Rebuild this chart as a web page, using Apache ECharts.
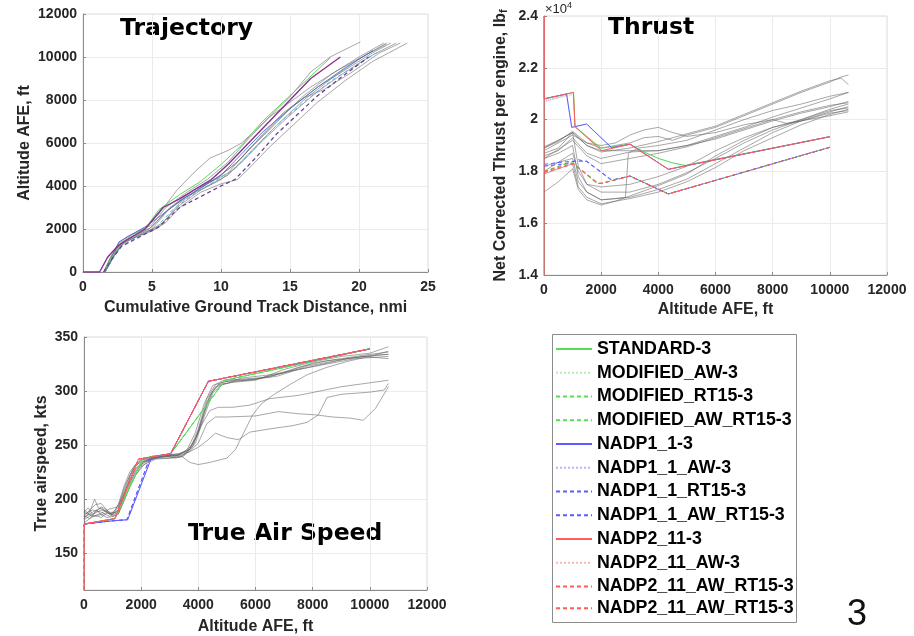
<!DOCTYPE html>
<html><head><meta charset="utf-8">
<script src="https://cdn.jsdelivr.net/npm/echarts@6/dist/echarts.min.js"></script>
<style>html,body{margin:0;padding:0;background:#fff}#c{width:914px;height:636px}</style>
</head><body><div id="c"></div><script>
// ---------- legend / procedure names ----------
const legendNames = ['STANDARD-3','MODIFIED_AW-3','MODIFIED_RT15-3','MODIFIED_AW_RT15-3','NADP1_1-3','NADP1_1_AW-3','NADP1_1_RT15-3','NADP1_1_AW_RT15-3','NADP2_11-3','NADP2_11_AW-3','NADP2_11_AW_RT15-3','NADP2_11_AW_RT15-3'];

// ---------- Trajectory: [distance nmi, altitude ft] ----------
const trajFlights = [
 [[1.5,0],[2.0,700],[2.6,1350],[3.2,1650],[4.5,2050],[5.5,2700],[6.8,3800],[8,4600],[9.2,5300],[10.5,5650],[11.5,6000],[13,6900],[15,8150],[16.5,9300],[17.9,10000],[20.1,10700]],
 [[1.6,0],[2.2,700],[2.8,1300],[3.5,1550],[5,1900],[6,2300],[7,3000],[8.5,3700],[10,4100],[11.2,4300],[12,4800],[13.5,5800],[15,6700],[17,7900],[19,8900],[21,9800],[23.5,10650]],
 [[1.5,0],[2.1,700],[2.7,1300],[3.5,1600],[5,2000],[6.2,2900],[7.5,3500],[9,4000],[10.5,4500],[12,5500],[14,6800],[16,8000],[18,9000],[20,9900],[22,10650]],
 [[1.6,0],[2.2,750],[2.8,1350],[3.6,1650],[5,2100],[6,2800],[7.5,3500],[9,4100],[10.5,4600],[12,5700],[13.5,6600],[15,7600],[17,8600],[19,9400],[21,10200],[22.3,10650]],
 [[1.5,0],[2,650],[2.6,1250],[3.4,1600],[4.8,2000],[6.3,3000],[8,3800],[9.5,4300],[11,5000],[12.5,6000],[14,7000],[16,8200],[18,9200],[20,10000],[21.8,10650]],
 [[1.6,0],[2.2,700],[2.9,1300],[4,1700],[5.5,2100],[7,3100],[8.5,3800],[10,4300],[11.5,5100],[13,6100],[15,7300],[17,8400],[19,9300],[21,10100],[22.7,10650]],
 [[1.5,0],[2.1,750],[2.7,1350],[3.5,1700],[5,2200],[6,3000],[7.5,3700],[9,4300],[10.5,5100],[12,6200],[13.5,7200],[15,7900],[16.5,8600],[18.5,9400],[20.5,10100],[22,10600]],
 [[1.6,0],[2.3,800],[3,1400],[4.5,1800],[5.8,2300],[7,3200],[8.5,3900],[10,4500],[11.5,5300],[13,6400],[14.5,7400],[16,8100],[17.5,8500],[19.5,9300],[21.5,10200],[23,10650]]
];
const trajModelPurple = [[0,0],[1.2,0],[1.8,700],[2.5,1200],[3.2,1500],[4.5,2000],[5.8,3000],[7,3400],[8,3800],[9.3,4300],[10.5,5000],[12,6000],[13.5,7000],[15,8000],[16.5,9000],[18.65,10000]];
const trajModelGreen = [[1.5,0],[2.1,700],[2.7,1250],[3.5,1600],[4.5,2000],[5.5,2900],[7,3600],[8.5,4200],[10,5000],[11.5,5900],[13,7000],[15,8200],[17.9,9950]];
const trajModelDashed = [[1.5,0],[2.2,700],[2.8,1200],[4,1600],[5.5,2100],[7,3000],[8.5,3500],[10,4000],[11,4300],[12.5,5300],[14,6400],[15.5,7300],[17,8200],[19,9200],[20.7,10000]];
const trajModelBlue = [[1.5,0],[2.1,700],[2.6,1400],[3.4,1700],[4.5,2100],[5.6,2600],[7,3300],[8.5,3900],[10,4500],[11.5,5500],[13,6500],[15,7600],[17,8600],[19,9500],[21,10300]];
const trajModelCyan = [[1.6,0],[2.2,650],[2.8,1200],[4,1650],[5.2,2000],[6.5,2900],[8,3600],[9.5,4200],[11,4800],[12.5,5800],[14,6800],[16,7900],[18,8900],[20,9700],[21.3,10200]];

// ---------- Thrust: [altitude ft, thrust lbf] ----------
const thrustFlights = [
 [[0,18900],[500,19150],[1000,19550],[1500,19100],[2000,18900],[3000,19100],[3500,19300],[4000,19350],[4500,19200],[5000,19400],[6000,19700],[7000,20150],[8000,20600],[9000,21050],[10000,21450],[10400,21650],[10650,21720]],
 [[0,18950],[500,19200],[1000,19500],[1500,19000],[2000,18750],[3000,18900],[4000,19150],[5000,19450],[6000,19750],[7000,20200],[8000,20650],[9000,21100],[10000,21500],[10400,21600],[10650,21350]],
 [[0,18600],[500,18800],[1000,19300],[1500,18700],[2000,18500],[3000,18750],[4000,18800],[5000,19000],[6000,19350],[7000,19700],[8000,20100],[9000,20450],[10000,20800],[10650,21050]],
 [[0,18900],[1000,19500],[1500,19000],[2000,18800],[3000,18800],[4000,18800],[5000,19000],[6000,19250],[7000,19600],[8000,19950],[9000,20250],[10000,20500],[10650,20700]],
 [[0,18800],[1000,19400],[1500,19100],[2000,19000],[2500,19100],[3000,19400],[3500,19600],[4000,19700],[4500,19500],[5000,19350],[6000,19500],[7000,19800],[8000,20000],[8500,19850],[9000,19950],[10000,20150],[10650,20300]],
 [[0,18500],[1000,19200],[1500,18600],[2000,18300],[3000,18500],[4000,18700],[5000,18950],[6000,19300],[7000,19650],[8000,20000],[9000,20300],[10000,20550],[10650,20650]],
 [[0,18200],[500,18350],[1000,18500],[1200,17600],[1500,17200],[2000,16900],[2500,16950],[3000,17000],[4000,17300],[5000,17700],[6000,18300],[7000,18900],[8000,19500],[9000,19950],[10000,20300],[10650,20500]],
 [[0,17900],[500,18100],[1000,18300],[1200,17400],[1500,17000],[2000,16750],[2500,16850],[3000,16950],[4000,17200],[5000,17600],[6000,18150],[7000,18800],[8000,19300],[9000,19800],[10000,20200],[10650,20400]],
 [[0,17200],[500,17600],[1000,18100],[1200,17300],[1500,16900],[2000,16700],[2500,16850],[3000,17050],[4000,17450],[5000,17900],[6000,18600],[7000,19200],[8000,19700],[9000,20000],[10000,20400],[10650,20600]],
 [[0,18500],[500,18700],[1000,19000],[1200,17800],[1500,17200],[2000,16900],[2500,16950],[2850,17000],[2950,18700],[3300,18900],[4000,19000],[5000,19200],[6000,19600],[7000,20000],[8000,20350],[9000,20600],[10000,20900],[10650,21050]],
 [[0,18700],[500,18900],[1000,19500],[1200,18200],[1500,17500],[2000,17200],[3000,17200],[4000,17500],[5000,17950],[6000,18500],[7000,19100],[8000,19600],[9000,20000],[10000,20350],[10650,20450]],
 [[0,18000],[1000,18700],[1200,18000],[1500,17500],[2000,17400],[3000,17500],[4000,17800],[5000,18200],[6000,18800],[7000,19300],[8000,19700],[9000,19950],[10000,20250],[10650,20350]]
];
const thrStandard = [[0,20800],[1030,21050],[1085,19730],[1500,19350],[2000,18900],[3010,19050],[3500,18750],[4000,18500],[4500,18330],[4930,18230],[10000,19340]];
const thrModAW = [[0,20750],[1030,21000],[1085,19720],[1500,19340],[2000,18890],[3010,19050],[3500,18750],[4000,18500],[4500,18330],[4930,18230],[10000,19340]];
const thrModRT15 = [[0,18000],[850,18340],[1030,18310],[1850,17540],[2020,17540],[3010,17820],[4350,17130],[10000,18930]];
const thrModAWRT15 = [[0,17980],[850,18320],[1030,18290],[1850,17530],[2020,17540],[3010,17820],[4350,17130],[10000,18930]];
const thrNadp1 = [[0,20800],[790,20990],[970,19700],[1490,19830],[2370,18910],[3010,19050],[4350,18080],[10000,19340]];
const thrNadp1AW = [[0,20700],[790,20950],[970,19700],[1490,19830],[2370,18910],[3010,19050],[4350,18080],[10000,19340]];
const thrNadp1RT15 = [[0,18275],[790,18375],[1490,18400],[2370,17670],[3010,17820],[4350,17130],[10000,18930]];
const thrNadp1AWRT15 = [[0,18200],[790,18300],[1200,18450],[1490,18380],[2370,17650],[3010,17820],[4350,17130],[10000,18930]];
const thrNadp2 = [[0,14000],[0,24000],[0,20800],[1030,21050],[1085,19730],[2020,18800],[3010,19050],[4350,18080],[10000,19340]];
const thrNadp2AW = [[0,20700],[1030,20960],[1085,19700],[2020,18800],[3010,19050],[4350,18080],[10000,19340]];
const thrNadp2AWRT15 = [[0,18000],[1030,18310],[1900,17540],[2020,17540],[3010,17820],[4350,17130],[10000,18930]];
const thrNadp2AWRT15b = [[0,17950],[1030,18280],[1900,17540],[2020,17540],[3010,17820],[4350,17130],[10000,18930]];

// ---------- True air speed: [altitude ft, kts] ----------
const tasFlights = [
 [[0,188],[150,192],[300,186],[450,190],[600,185],[800,188],[1000,186],[1200,195],[1400,212],[1600,225],[1800,232],[2000,234],[2400,238],[2800,239],[3200,240],[3600,244],[3900,256],[4200,280],[4500,300],[4800,308],[5200,310],[6000,311],[7000,317],[8000,326],[9000,330],[10000,334],[10650,336]],
 [[0,182],[200,188],[370,200],[500,192],[700,190],[900,186],[1100,190],[1300,200],[1500,215],[1700,228],[2000,236],[2400,240],[2800,241],[3200,240],[3600,245],[3900,262],[4200,288],[4500,305],[4900,310],[5500,311],[6500,313],[7500,322],[8500,328],[9500,331],[10650,334]],
 [[0,185],[200,182],[400,188],[600,193],[800,190],[1000,185],[1200,188],[1400,205],[1600,218],[1800,228],[2100,236],[2500,238],[3000,238],[3400,239],[3800,248],[4100,270],[4400,296],[4700,306],[5200,308],[6000,310],[7000,320],[8000,327],[9000,332],[10000,335],[10650,341]],
 [[0,190],[200,186],[400,184],[600,186],[800,183],[1000,184],[1200,186],[1400,198],[1600,212],[1800,222],[2000,230],[2300,236],[2800,240],[3300,241],[3700,246],[4000,262],[4300,290],[4600,304],[5000,307],[5500,312],[6500,315],[7500,320],[8500,325],[9500,330],[10650,332]],
 [[0,178],[200,182],[400,185],[600,183],[800,187],[1000,186],[1200,192],[1400,210],[1600,222],[1800,230],[2000,236],[2400,239],[2800,240],[3200,238],[3500,240],[3900,252],[4200,276],[4500,298],[4800,306],[5300,309],[6200,312],[7200,318],[8200,324],[9200,330],[10000,333],[10650,334]],
 [[0,184],[200,190],[400,195],[600,196],[800,190],[1000,184],[1200,187],[1400,202],[1600,220],[1800,232],[2000,237],[2400,239],[2900,241],[3300,242],[3700,246],[4000,265],[4300,293],[4600,306],[5000,309],[5800,310],[6800,314],[7800,323],[8800,328],[9800,332],[10650,330]],
 [[0,186],[300,190],[600,188],[900,184],[1200,190],[1500,212],[1800,228],[2100,234],[2500,238],[3000,240],[3400,240],[3700,234],[4000,232],[4400,234],[4700,236],[5000,238],[5300,246],[5600,262],[5900,278],[6200,288],[6600,296],[7200,306],[7800,315],[8500,322],[9300,328],[10000,332],[10650,337]],
 [[0,181],[300,186],[600,190],[900,188],[1200,187],[1500,205],[1800,222],[2100,232],[2500,237],[3000,238],[3400,240],[3700,244],[4000,248],[4300,254],[4600,261],[5000,257],[5400,255],[5800,262],[6500,265],[7300,268],[7800,271],[8200,278],[8500,294],[9000,297],[10000,299],[10500,301],[10650,307]],
 [[0,188],[300,184],[600,187],[900,191],[1200,193],[1500,210],[1800,225],[2100,234],[2500,239],[3000,240],[3400,241],[3700,244],[4000,252],[4300,270],[4600,276],[5000,276],[6000,277],[6800,281],[7500,279],[8100,278],[8700,276],[9300,275],[9770,273],[10200,284],[10650,304]],
 [[0,183],[300,188],[600,192],[900,186],[1200,189],[1500,208],[1800,226],[2100,235],[2500,239],[3000,241],[3400,242],[3800,250],[4100,268],[4400,282],[4700,285],[5200,285],[5800,287],[6500,293],[7500,296],[9000,304],[10650,310]]
];
const tasStandard = [[0,177],[1080,182],[2070,238],[3030,242],[4930,310],[10000,339]];
const tasNadp1 = [[0,177],[1000,180],[1530,181],[2370,239],[3030,242],[4350,309],[10000,339]];
const tasNadp1RT15 = [[0,177],[1000,180],[1500,181],[2300,238],[3030,242],[4350,309],[10000,339]];
const tasNadp2 = [[0,116],[0,177],[1080,182],[1900,237],[3030,242],[4350,309],[10000,339]];

// ---------- axis ticks ----------
const trajXTicks = [0, 25, 5];
const trajYTicks = [0, 12000, 2000];
const altTicks = [0, 12000, 2000];
const thrustYTicks = [14000, 24000, 2000];
const tasYMin = 116, tasYMax = 350;
const tasYLabels = [150, 200, 250, 300, 350];

// ---------- styling ----------
const GREEN = '#55dd55', BLUE = '#5c5cff', RED = '#ff5c5c';
const GRAY = 'rgba(95,95,95,0.55)';
const FONT = 'Liberation Sans';

function line(name, data, idx, color, type, opacity, z, width) {
  return {
    type: 'line', name: name, data: data, xAxisIndex: idx, yAxisIndex: idx,
    symbol: 'none', showSymbol: false, animation: false, silent: true, z: z || 2,
    lineStyle: { color: color, width: width || 1, type: type || 'solid', opacity: opacity == null ? 1 : opacity },
    itemStyle: { color: color }
  };
}
const DASH = [4, 3];

const series = [];
trajFlights.forEach((d, i) => series.push(line('traj-flight-' + i, d, 0, GRAY, 'solid', 1, 1)));
series.push(line('traj-cyan', trajModelCyan, 0, '#4fb3d9', DASH, 0.9, 2));
series.push(line('traj-blue', trajModelBlue, 0, '#4a6fd0', 'solid', 0.9, 2));
series.push(line('traj-green', trajModelGreen, 0, '#5fd35f', 'solid', 1, 2));
series.push(line('traj-dashed', trajModelDashed, 0, '#6b3f8f', DASH, 1, 2, 1.3));
series.push(line('traj-purple', trajModelPurple, 0, '#8a3090', 'solid', 1, 2, 1.4));

thrustFlights.forEach((d, i) => series.push(line('thrust-flight-' + i, d, 1, GRAY, 'solid', 1, 1)));
tasFlights.forEach((d, i) => series.push(line('tas-flight-' + i, d, 2, GRAY, 'solid', 1, 1)));

// procedure lines (thrust grid first so legend picks its style)
const thrData = [thrStandard, thrModAW, thrModRT15, thrModAWRT15, thrNadp1, thrNadp1AW, thrNadp1RT15, thrNadp1AWRT15, thrNadp2, thrNadp2AW, thrNadp2AWRT15, thrNadp2AWRT15b];
const tasData = [tasStandard, tasStandard, tasStandard, tasStandard, tasNadp1, tasNadp1, tasNadp1RT15, tasNadp1RT15, tasNadp2, tasNadp2, tasNadp2, tasNadp2];
const procColor = [GREEN, GREEN, GREEN, GREEN, BLUE, BLUE, BLUE, BLUE, RED, RED, RED, RED];
const procType = ['solid', 'dotted', DASH, DASH, 'solid', 'dotted', DASH, DASH, 'solid', 'dotted', DASH, DASH];
const procOpacity = [1, 0.45, 1, 1, 1, 0.45, 1, 1, 1, 0.45, 1, 1];
const procZ = [3, 3, 3, 3, 4, 4, 4, 4, 5, 5, 5, 5];
legendNames.forEach((n, i) => series.push(line(n, thrData[i], 1, procColor[i], procType[i], procOpacity[i], procZ[i])));
legendNames.forEach((n, i) => series.push(line(n, tasData[i], 2, procColor[i], procType[i], procOpacity[i], procZ[i])));

const plain = v => String(v);
const axisCommon = {
  type: 'value',
  axisLine: { show: true, onZero: false, lineStyle: { color: '#8c8c8c', width: 1 } },
  axisTick: { show: true, inside: true, length: 3, lineStyle: { color: '#8c8c8c' } },
  splitLine: { show: true, lineStyle: { color: '#ebebeb', width: 1 } },
  nameLocation: 'middle',
  nameTextStyle: { color: '#262626', fontWeight: 'bold', fontSize: 16, fontFamily: FONT }
};
function lbl(extra) { return Object.assign({ color: '#262626', fontWeight: 'bold', fontSize: 14, fontFamily: FONT, formatter: plain }, extra); }
function ax(extra) { return Object.assign({}, JSON.parse(JSON.stringify(axisCommon)), extra); }

const legendText = { fontFamily: FONT, fontWeight: 'bold', fontSize: 17.8, color: '#000', lineHeight: 17.8 };
const LEG_TOP = 340.1, LEG_PITCH = 23.55, LEG_GAP = 5.75;
const option = {
  backgroundColor: '#ffffff',
  animation: false,
  grid: [
    { left: 83, top: 14, width: 345, height: 258, show: true, borderColor: '#dcdcdc', borderWidth: 1, backgroundColor: 'transparent' },
    { left: 544, top: 16, width: 343, height: 259, show: true, borderColor: '#dcdcdc', borderWidth: 1, backgroundColor: 'transparent' },
    { left: 84, top: 337, width: 343, height: 259, show: true, borderColor: '#dcdcdc', borderWidth: 1, backgroundColor: 'transparent' }
  ],
  xAxis: [
    ax({ gridIndex: 0, min: trajXTicks[0], max: trajXTicks[1], interval: trajXTicks[2], name: 'Cumulative Ground Track Distance, nmi', nameGap: 28, axisLabel: lbl({ margin: 8 }) }),
    ax({ gridIndex: 1, min: altTicks[0], max: altTicks[1], interval: altTicks[2], name: 'Altitude AFE, ft', nameGap: 27, axisLabel: lbl({ margin: 8 }) }),
    ax({ gridIndex: 2, min: altTicks[0], max: altTicks[1], interval: altTicks[2], name: 'Altitude AFE, ft', nameGap: 29, axisLabel: lbl({ margin: 8 }) })
  ],
  yAxis: [
    ax({ gridIndex: 0, min: trajYTicks[0], max: trajYTicks[1], interval: trajYTicks[2], name: 'Altitude AFE, ft', nameGap: 50, axisLabel: lbl({ margin: 6 }) }),
    ax({ gridIndex: 1, min: thrustYTicks[0], max: thrustYTicks[1], interval: thrustYTicks[2], name: 'Net Corrected Thrust per engine, lb{sub|f}', nameGap: 35,
         nameTextStyle: Object.assign({}, axisCommon.nameTextStyle, { rich: { sub: { fontSize: 11, fontWeight: 'bold', fontFamily: FONT, color: '#262626', padding: [6, 0, 0, 0] } } }),
         axisLabel: lbl({ margin: 6, formatter: v => String(v / 10000) }) }),
    ax({ gridIndex: 2, min: tasYMin, max: tasYMax, name: 'True airspeed, kts', nameGap: 34,
         axisLabel: lbl({ margin: 6, customValues: tasYLabels }),
         axisTick: Object.assign({}, axisCommon.axisTick, { customValues: tasYLabels }) })
  ],
  legend: [
    { data: legendNames.slice(0, 11), orient: 'vertical', left: 555, top: LEG_TOP, padding: 0, itemWidth: 36, itemHeight: 14, itemGap: LEG_GAP, selectedMode: false,
      itemStyle: { opacity: 0 }, textStyle: legendText },
    { data: legendNames.slice(11), orient: 'vertical', left: 555, top: LEG_TOP + 11 * LEG_PITCH, padding: 0, itemWidth: 36, itemHeight: 14, itemGap: LEG_GAP, selectedMode: false,
      itemStyle: { opacity: 0 }, textStyle: legendText }
  ],
  graphic: [
    { type: 'rect', shape: { x: 552.5, y: 334.5, width: 244, height: 288 }, style: { fill: 'none', stroke: '#8c8c8c', lineWidth: 1 }, silent: true },
    { type: 'text', x: 120, y: 29, style: { text: 'Trajectory', font: 'bold 23.5px "DejaVu Sans"', fill: '#000', verticalAlign: 'middle' }, silent: true },
    { type: 'text', x: 608, y: 28, style: { text: 'Thrust', font: 'bold 23.5px "DejaVu Sans"', fill: '#000', verticalAlign: 'middle' }, silent: true },
    { type: 'text', x: 188, y: 534, style: { text: 'True Air Speed', font: 'bold 23.5px "DejaVu Sans"', fill: '#000', verticalAlign: 'middle' }, silent: true },
    { type: 'text', x: 545, y: 9, style: { text: '×10{sup|4}', font: '13px "Liberation Sans"', fill: '#262626', verticalAlign: 'middle', rich: { sup: { fontSize: 9, fill: '#262626', padding: [0, 0, 7, 0] } } }, silent: true },
    { type: 'text', x: 847, y: 615, style: { text: '3', font: '36px "Liberation Sans"', fill: '#111', verticalAlign: 'middle' }, silent: true }
  ],
  series: series
};
const chart = echarts.init(document.getElementById('c'), null, { renderer: 'canvas' });
chart.setOption(option);
</script></body></html>
